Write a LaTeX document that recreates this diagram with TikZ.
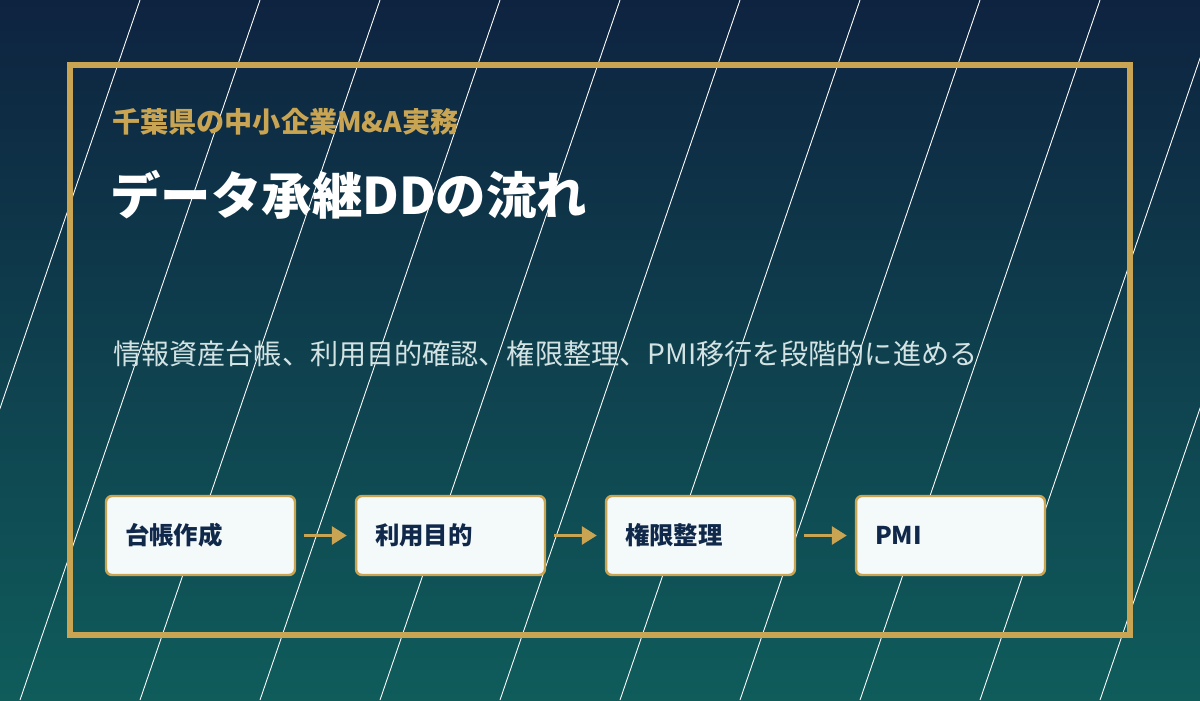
\documentclass[tikz,border=0pt]{standalone}
\usepackage{fontspec}
\setmainfont{Noto Sans CJK JP}
\usetikzlibrary{arrows.meta}

\definecolor{navytop}{HTML}{0E2340}
\definecolor{tealbot}{HTML}{0F5C5B}
\definecolor{gold}{HTML}{C9A553}
\definecolor{boxfill}{HTML}{F4F9FA}
\definecolor{navytext}{HTML}{10294A}
\definecolor{sublight}{HTML}{D3E3E4}

\begin{document}
\begin{tikzpicture}[x=0.02cm, y=-0.02cm,
    stepbox/.style={draw=gold, line width=1.4pt, fill=boxfill, rounded corners=0.12cm,
        minimum height=1.58cm, text width=3.02cm, inner xsep=0.38cm, align=left,
        font=\bfseries\fontsize{13.9}{16}\selectfont, text=navytext},
    flow/.style={-{Triangle[length=0.3cm,width=0.36cm]}, draw=gold, line width=1.7pt,
        shorten <=0.16cm, shorten >=0.16cm}]
    % background
    \shade[top color=navytop, bottom color=tealbot] (0,0) rectangle (1200,700);
    \useasboundingbox (0,0) rectangle (1200,700);
    \begin{scope}
        \clip (0,0) rectangle (1200,700);
        \foreach \x in {140,260,...,1340}
            \draw[white, line width=0.5pt] (\x,0) -- (\x-240,700);
    \end{scope}
    \draw[gold, line width=3pt] (70,65) rectangle (1130,635);

    % headings
    \node[anchor=west, inner sep=0, text=gold, font=\bfseries\fontsize{16}{19}\selectfont] (kicker) at (112,122) {千葉県の中小企業M\&A実務};
    \node[anchor=west, inner sep=0, text=white, font=\bfseries\fontsize{28.7}{34}\selectfont] (title) at (110,195) {データ承継DDの流れ};
    \node[anchor=west, inner sep=0, text=sublight, font=\fontsize{16}{19}\selectfont] (lead) at (113,354) {情報資産台帳、利用目的確認、権限整理、PMI移行を段階的に進める};

    % steps
    \node[stepbox] (ledger) at (200.5,535.5) {台帳作成};
    \node[stepbox] (purpose) at (450.5,535.5) {利用目的};
    \node[stepbox] (access) at (700.5,535.5) {権限整理};
    \node[stepbox] (pmi) at (950.5,535.5) {PMI};

    \draw[flow] (ledger) -- (purpose);
    \draw[flow] (purpose) -- (access);
    \draw[flow] (access) -- (pmi);
\end{tikzpicture}
\end{document}
